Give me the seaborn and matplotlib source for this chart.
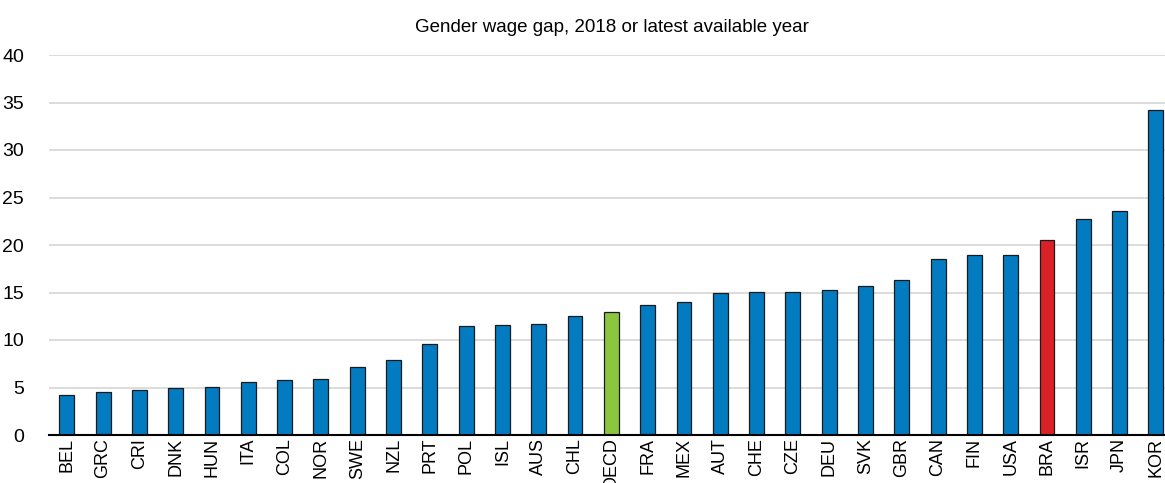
import matplotlib
matplotlib.use("Agg")
import matplotlib.pyplot as plt
import seaborn as sns
import pandas as pd
from matplotlib.ticker import FixedLocator, NullFormatter

countries = ["BEL", "GRC", "CRI", "DNK", "HUN", "ITA", "COL", "NOR", "SWE", "NZL",
             "PRT", "POL", "ISL", "AUS", "CHL", "OECD", "FRA", "MEX", "AUT", "CHE",
             "CZE", "DEU", "SVK", "GBR", "CAN", "FIN", "USA", "BRA", "ISR", "JPN", "KOR"]
values = [4.2, 4.55, 4.75, 4.9, 5.07, 5.6, 5.8, 5.9, 7.15, 7.9,
          9.6, 11.5, 11.55, 11.7, 12.5, 13.0, 13.7, 14.05, 14.9, 15.1,
          15.1, 15.28, 15.67, 16.33, 18.55, 18.9, 18.97, 20.55, 22.7, 23.55, 34.2]
title = "Gender wage gap, 2018 or latest available year"
yticks = [0, 5, 10, 15, 20, 25, 30, 35, 40]

BLUE = "#037BC1"
GREEN = "#8CC63F"
RED = "#DA2128"
colors = {c: (GREEN if c == "OECD" else RED if c == "BRA" else BLUE) for c in countries}

df = pd.DataFrame({"country": countries, "value": values})

sns.set_theme(style="white")
plt.rcParams["font.family"] = ["Liberation Sans", "DejaVu Sans"]
plt.rcParams["text.color"] = "black"
plt.rcParams["xtick.color"] = "black"
plt.rcParams["ytick.color"] = "black"

fig = plt.figure(figsize=(11.65, 4.83), dpi=100)
ax = fig.add_axes([49 / 1165, 48 / 483, 1 - 49 / 1165, 380 / 483])

sns.barplot(data=df, x="country", y="value", hue="country", palette=colors,
            order=countries, width=0.41, edgecolor="#1a1a1a", linewidth=0.9,
            saturation=1, legend=False, ax=ax, zorder=3)

ax.set_xlim(-0.49, 30.25)
ax.set_ylim(0, 40)
ax.set_yticks(yticks)
ax.set_yticklabels([str(v) for v in yticks], fontsize=14)
ax.yaxis.grid(True, color="#D9D9D9", linewidth=1.3, zorder=0)
ax.xaxis.grid(False)
ax.set_axisbelow(True)
ax.tick_params(axis="y", length=0, pad=18)

for s in ["left", "right", "top"]:
    ax.spines[s].set_visible(False)
ax.spines["bottom"].set_color("black")
ax.spines["bottom"].set_linewidth(1.5)
ax.spines["bottom"].set_zorder(4)

ax.set_xticks(range(len(countries)))
ax.set_xticklabels(countries, rotation=90, fontsize=13)
ax.tick_params(axis="x", which="major", length=0, pad=2)
ax.xaxis.set_minor_locator(FixedLocator([i + 0.5 for i in range(-1, len(countries))]))
ax.xaxis.set_minor_formatter(NullFormatter())
ax.tick_params(axis="x", which="minor", direction="in", length=5, width=1.2, color="black")

ax.set_xlabel("")
ax.set_ylabel("")
fig.text(0.525, 0.944, title, ha="center", va="center", fontsize=13.5, color="black")

fig.savefig("out.png", dpi=100)
